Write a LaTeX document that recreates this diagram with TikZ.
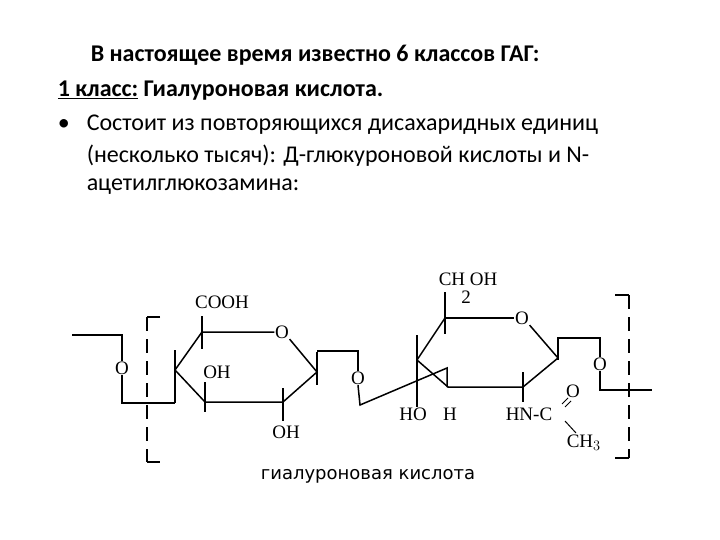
\documentclass[tikz,border=0pt]{standalone}
\usepackage{fontspec}
\setmainfont{Carlito}
\newfontfamily\chem{Liberation Serif}
\newfontfamily\capf{DejaVu Sans}
\begin{document}
\begin{tikzpicture}[x=1pt,y=-1pt,line width=1.5pt,
  lbl/.style={font=\chem\fontsize{19}{19}\selectfont,inner sep=0pt},
  txt/.style={font=\fontsize{24}{26}\selectfont,anchor=west,inner sep=0pt},
  brk/.style={line width=1.5pt,dash pattern=on 14pt off 8pt}]
\useasboundingbox (0,0) rectangle (720,540);
\node[txt,font=\bfseries\fontsize{24}{26}\selectfont] (t1) at (90,55) {В настоящее время известно 6 классов ГАГ:};
\node[txt,font=\bfseries\fontsize{24}{26}\selectfont] (t2) at (57,91) {\underline{1 класс:} Гиалуроновая кислота.};
\node[txt] (b) at (57,125) {•};
\node[txt] (t3) at (86,125) {Состоит из повторяющихся дисахаридных единиц};
\node[txt] (t4) at (86,156) {(несколько тысяч): Д-глюкуроновой кислоты и N-};
\node[txt] (t5) at (86,187) {ацетилглюкозамина:};
% left bracket
\draw (160,317)--(147,317);
\draw[brk] (147,317)--(147,462);
\draw (147,462)--(160,462);
% right bracket
\draw (615,295)--(629,295);
\draw[brk] (629,295)--(629,458);
\draw (629,458)--(615,458);
% left link
\node[lbl] (o1) at (122,368) {O};
\draw (72,335)--(122,335)--(o1.north);
\draw (o1.south)--(122,403)--(175,403);
\draw (175,350)--(175,403);
% ring 1
\node[lbl] (ro1) at (282,332) {O};
\coordinate (a1) at (175,370);
\coordinate (a2) at (202,332);
\coordinate (a4) at (317,372);
\coordinate (a5) at (283,402);
\coordinate (a6) at (205,402);
\draw (a1)--(a2)--(ro1.west);
\draw (ro1.south east)--(a4)--(a5)--(a6)--(a1);
\node[lbl] (cooh) at (222,302) {COOH};
\draw (202,316)--(202,349);
\node[lbl] (oh1) at (217,372) {OH};
\draw (205,382)--(205,412);
\node[lbl] (oh2) at (286,432) {OH};
\draw (283,388)--(283,421);
\draw (317,352)--(317,385);
% glycosidic link
\node[lbl] (o2) at (358,378) {O};
\draw (317,351)--(358,351)--(o2.north);
\draw (o2.south)--(360,405)--(447,368)--(447,387);
% ring 2
\node[lbl] (ro2) at (522,318) {O};
\coordinate (c1) at (417,360);
\coordinate (c2) at (445,318);
\coordinate (c4) at (558,358);
\coordinate (c5) at (523,387);
\coordinate (c6) at (448,387);
\draw (c2)--(ro2.west);
\draw (ro2.south east)--(c4)--(c5)--(c6)--(c1)--(c2);
\draw (417,335)--(417,407);
\draw (445,292)--(445,334);
\node[lbl,anchor=west] (ch2oh) at (438,279) {CH OH};
\node[lbl] (two) at (466,297) {2};
\node[lbl] (ho) at (413,414) {HO};
\node[lbl] (h) at (450,414) {H};
\draw (523,372)--(523,402);
\node[lbl,anchor=west] (hn) at (505,414) {HN-C};
\node[lbl] (oc) at (573,391) {O};
\node[lbl,anchor=west] (ch3) at (566,443) {CH$_3$};
\draw[line width=1pt] (562,404)--(568,398);
\draw[line width=1pt] (565,407)--(571,401);
\draw[line width=1pt] (565,421)--(576,433);
% right link
\node[lbl] (o3) at (600,364) {O};
\draw (558,337)--(558,360);
\draw (558,338)--(600,338)--(o3.north);
\draw (o3.south)--(600,390)--(652,390);
% caption
\node[inner sep=0pt,font=\capf\fontsize{18}{18}\selectfont] (cap) at (368,476) {гиалуроновая кислота};
\end{tikzpicture}
\end{document}
